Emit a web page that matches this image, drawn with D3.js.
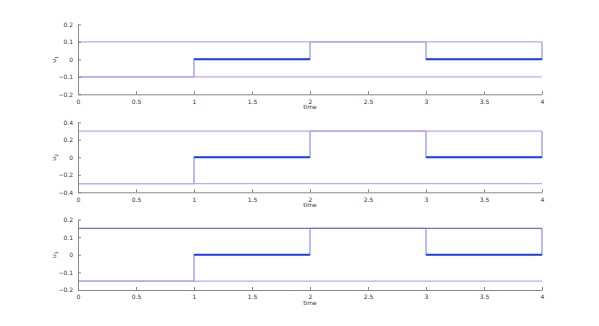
<!DOCTYPE html>
<html>
<head>
<meta charset="utf-8">
<script src="https://cdn.jsdelivr.net/npm/d3@7"></script>
<style>
  body { margin: 0; background: #fff; }
  svg text { font-family: "DejaVu Sans", sans-serif; }
</style>
</head>
<body>
<div id="chart"></div>
<script>
// data
var xTicks = [0, 0.5, 1, 1.5, 2, 2.5, 3, 3.5, 4];
var stepTimes = [0, 1, 2, 3, 4];
var names = ["1", "2", "3"];
var bounds = [0.1, 0.3, 0.15];
var yDomains = [[-0.2, 0.2], [-0.4, 0.4], [-0.2, 0.2]];
var yTicks = [[-0.2, -0.1, 0, 0.1, 0.2], [-0.4, -0.2, 0, 0.2, 0.4], [-0.2, -0.1, 0, 0.1, 0.2]];
// input level (in units of bound) on each step
var levels = [-1, 0, 1, 0, 1];
var zeroSegs = [[1, 2], [3, 4]];

var W = 599, H = 326;
var svg = d3.select("#chart").append("svg").attr("width", W).attr("height", H);

var x = d3.scaleLinear().domain([0, 4]).range([78, 542]);
var panels = [[24.3, 94.3], [122.3, 192.3], [219.5, 290]];
var upperCol = ["#c6a6ee", "#c6a6ee", "#8a66c8"];

panels.forEach(function(p, i) {
  var y = d3.scaleLinear().domain(yDomains[i]).range([p[1], p[0]]);
  var g = svg.append("g");
  var b = bounds[i];

  // stair
  var pts = stepTimes.map(function(t, k) { return [t, levels[k] * b]; });
  var line = d3.line().x(function(d) { return x(d[0]); }).y(function(d) { return y(d[1]); }).curve(d3.curveStepAfter);
  g.append("path").attr("d", line(pts)).attr("fill", "none")
    .attr("stroke", "#8592ff").attr("stroke-width", 1.2);

  // bounds on top
  g.append("line").attr("x1", x(0)).attr("x2", x(4)).attr("y1", y(-b)).attr("y2", y(-b))
    .attr("stroke", "#c6a6ee").attr("stroke-width", 1.2);
  g.append("line").attr("x1", x(0)).attr("x2", x(4)).attr("y1", y(b)).attr("y2", y(b))
    .attr("stroke", upperCol[i]).attr("stroke-width", 1.2);

  // thick zero segments
  zeroSegs.forEach(function(s) {
    g.append("line").attr("x1", x(s[0])).attr("x2", x(s[1])).attr("y1", y(0)).attr("y2", y(0))
      .attr("stroke", "#1f3cf2").attr("stroke-width", 2);
  });

  // axes
  var xa = g.append("g").attr("transform", "translate(0," + p[1] + ")")
    .call(d3.axisBottom(x).tickValues(xTicks).tickFormat(d3.format("")).tickSizeInner(-3).tickSizeOuter(0).tickPadding(5));
  var ya = g.append("g").attr("transform", "translate(" + x(0) + ",0)")
    .call(d3.axisLeft(y).tickValues(yTicks[i]).tickFormat(d3.format("")).tickSizeInner(-3).tickSizeOuter(0).tickPadding(5));
  [xa, ya].forEach(function(a) {
    a.select(".domain").attr("stroke", "#888");
    a.selectAll(".tick line").attr("stroke", "#888");
    a.selectAll("text").style("font-size", "6px").style("fill", "#333");
  });

  g.append("text").attr("x", x(2)).attr("y", p[1] + 15).attr("text-anchor", "middle")
    .style("font-size", "6px").style("fill", "#333").text("time");

  var lab = g.append("text").attr("transform", "translate(56," + ((p[0] + p[1]) / 2) + ") rotate(-90)")
    .attr("text-anchor", "middle").style("font-size", "6px").style("fill", "#333");
  lab.append("tspan").text("u");
  lab.append("tspan").attr("dy", 1.5).style("font-size", "4.5px").text(names[i]);
});
</script>
</body>
</html>
